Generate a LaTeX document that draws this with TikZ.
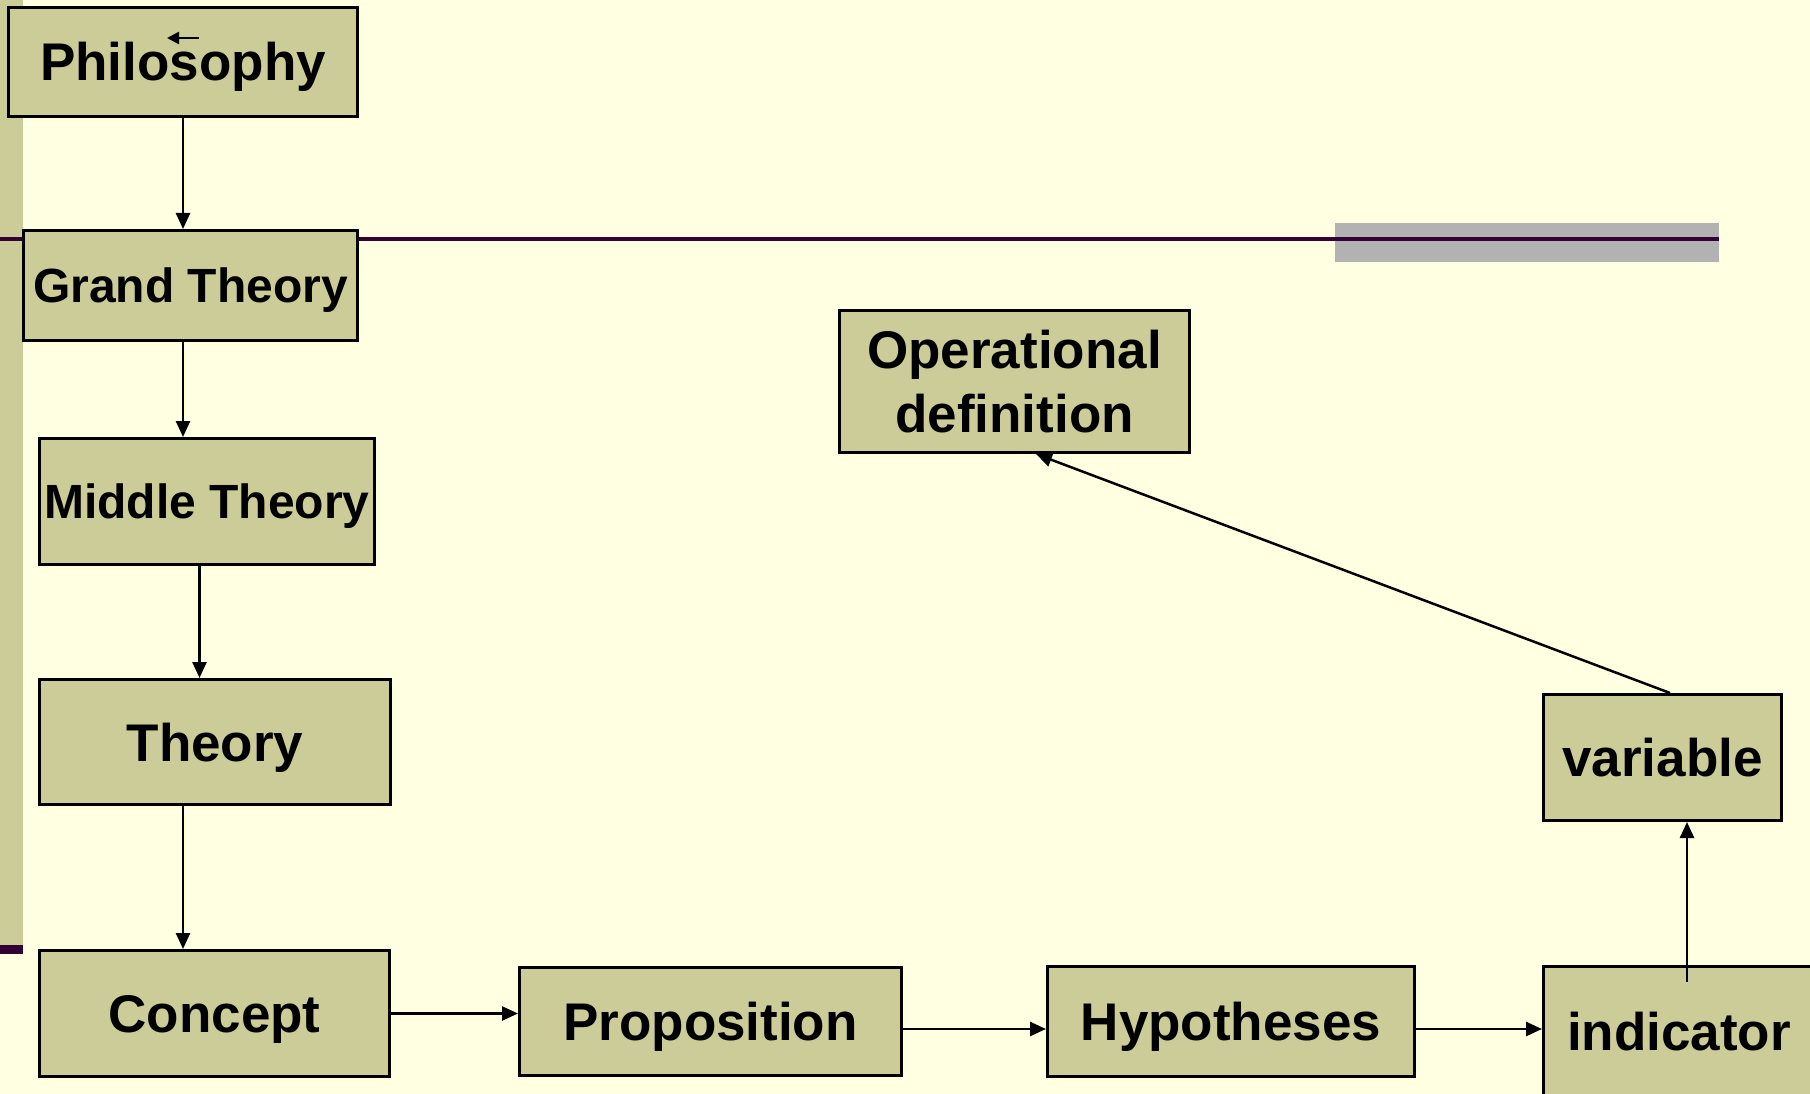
\documentclass[tikz,border=0pt]{standalone}
\usepackage{fontspec}
\setmainfont{Liberation Sans}
\usetikzlibrary{arrows.meta}
\definecolor{paper}{HTML}{FFFFE1}
\definecolor{boxfill}{HTML}{CCCC99}
\definecolor{plum}{HTML}{330033}
\definecolor{bargray}{HTML}{B2B2B2}
\begin{document}
\begin{tikzpicture}[x=1pt,y=-1pt,
  box/.style={draw=black, line width=3pt, fill=boxfill, inner sep=0pt,
    align=center, font=\bfseries\fontsize{53}{63.5}\selectfont},
  oneline/.style={text height=38pt, text depth=0pt},
  smaller/.style={font=\bfseries\fontsize{48}{57}\selectfont, text height=34.5pt},
  link/.style={line width=2.5pt, -{Triangle[length=16pt,width=14pt]}}]
  \useasboundingbox (0,0) rectangle (1810,1094);
  \clip (0,0) rectangle (1810,1094);
  % slide background
  \fill[paper] (0,0) rectangle (1810,1094);
  \fill[boxfill] (0,0) rectangle (23,945);
  \fill[plum] (0,945) rectangle (23,954);
  \fill[bargray] (1335,223) rectangle (1719,262);
  \draw[plum, line width=4pt] (0,239) -- (1719,239);
  % boxes
  \node[box, oneline, minimum width=349pt, minimum height=109pt] (philo) at (183,62) {Philosophy};
  \node[box, oneline, smaller, minimum width=334pt, minimum height=110pt] (grand) at (190.5,285.5) {Grand Theory};
  \node[box, oneline, smaller, minimum width=335pt, minimum height=126pt] (middle) at (207,501.5) {Middle Theory};
  \node[box, oneline, minimum width=351pt, minimum height=125pt] (theory) at (215,742) {Theory};
  \node[box, oneline, minimum width=350pt, minimum height=126pt] (concept) at (214.5,1013.5) {Concept};
  \node[box, oneline, minimum width=382pt, minimum height=108pt] (prop) at (710.5,1021.5) {Proposition};
  \node[box, oneline, minimum width=367pt, minimum height=110pt] (hypo) at (1231,1021.5) {Hypotheses};
  \node[box, oneline, minimum width=271pt, minimum height=129pt] (indic) at (1679,1031) {indicator};
  \node[box, oneline, minimum width=238pt, minimum height=126pt] (var) at (1662.5,757.5) {variable};
  \node[box, minimum width=350pt, minimum height=142pt] (opdef) at (1014.5,381.5) {Operational\\definition};
  % connectors
  \draw[link] (philo.south) -- (philo.south |- grand.north);
  \draw[link] (philo.south |- grand.south) -- (philo.south |- middle.north);
  \draw[link] ([xshift=-7.5pt]middle.south) -- ([xshift=-7.5pt]middle.south |- theory.north);
  \draw[link] (philo.south |- theory.south) -- (philo.south |- concept.north);
  \draw[link] (concept.east) -- (concept.east -| prop.west);
  \draw[link] ([yshift=-7.5pt]prop.east) -- ([yshift=-7.5pt]prop.east -| hypo.west);
  \draw[link] ([yshift=-7.5pt]hypo.east) -- ([yshift=-7.5pt]hypo.east -| indic.west);
  \draw[link] ([xshift=8pt,yshift=-17pt]indic.north) -- ([xshift=8pt]indic.north |- var.south);
  \draw[link] ([xshift=7.5pt]var.north) -- ([xshift=21.5pt]opdef.south);
  % stray mark over Philosophy
  \coordinate (markR) at (199,38);
  \coordinate (markL) at (167,38);
  \draw[line width=2.5pt, -{Triangle[length=12pt,width=12pt]}] (markR) -- (markL);
\end{tikzpicture}
\end{document}
